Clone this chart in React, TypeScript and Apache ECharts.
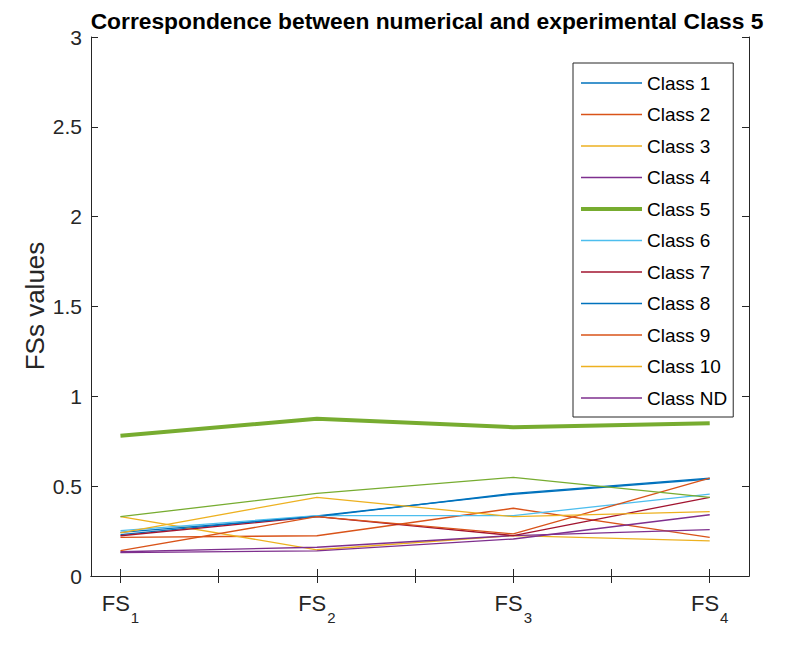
import React, { useEffect, useRef } from "react";
import * as echarts from "echarts";

const xPositions = [1, 2, 3, 4];
const tickValues = [1, 1.5, 2, 2.5, 3, 3.5, 4];

const classNames = [
  "Class 1", "Class 2", "Class 3", "Class 4", "Class 5", "Class 6",
  "Class 7", "Class 8", "Class 9", "Class 10", "Class ND",
];

const class1 = [0.23, 0.335, 0.455, 0.54];
const class2 = [0.215, 0.224, 0.377, 0.215];
const class3 = [0.33, 0.146, 0.225, 0.196];
const class4 = [0.135, 0.16, 0.225, 0.258];
const class5 = [0.78, 0.875, 0.828, 0.85];
const class6 = [0.252, 0.336, 0.336, 0.456];
const class7 = [0.224, 0.33, 0.225, 0.438];
const class8 = [0.243, 0.33, 0.46, 0.545];
const class9 = [0.141, 0.33, 0.234, 0.545];
const class10 = [0.24, 0.438, 0.33, 0.358];
const classND = [0.13, 0.14, 0.206, 0.341];
const numericalClass5 = [0.33, 0.46, 0.549, 0.438];

const seriesValues = [
  class1, class2, class3, class4, class5, class6,
  class7, class8, class9, class10, classND, numericalClass5,
];

const palette = ["#0072BD", "#D95319", "#EDB120", "#7E2F8E", "#77AC30", "#4DBEEE", "#A2142F"];

const FONT = "'Liberation Sans', Arial, Helvetica, sans-serif";
const AXIS_COLOR = "#262626";

export default function App() {
  const ref = useRef<HTMLDivElement>(null);
  useEffect(() => {
    if (!ref.current) return;
    const chart = echarts.init(ref.current, undefined, { renderer: "svg" });
    const series = seriesValues.map((vals, i) => ({
      name: i < classNames.length ? classNames[i] : "Numerical Class 5",
      type: "line",
      xAxisIndex: 0,
      yAxisIndex: 0,
      data: vals.map((v, j) => [xPositions[j], v]),
      symbol: "none",
      showSymbol: false,
      color: palette[i % palette.length],
      lineStyle: { width: i === 4 ? 4 : 1.3, color: palette[i % palette.length] },
      z: i === 4 ? 3 : 2,
    }));
    const option: any = {
      animation: false,
      backgroundColor: "#fff",
      grid: { left: 91, top: 37, width: 658, height: 539, containLabel: false },
      xAxis: [
        {
          type: "value",
          position: "bottom",
          min: 0.85,
          max: 4.2,
          splitLine: { show: false },
          axisLine: { show: true, lineStyle: { color: AXIS_COLOR, width: 1 } },
          axisTick: { show: true, inside: true, length: 7, customValues: tickValues, lineStyle: { color: AXIS_COLOR } },
          axisLabel: {
            show: true,
            customValues: xPositions,
            margin: 16,
            formatter: (v: number) => "{a|FS}{b|" + Math.round(v) + "}",
            rich: {
              a: { fontFamily: FONT, fontSize: 22, color: AXIS_COLOR, lineHeight: 26, verticalAlign: "top" },
              b: { fontFamily: FONT, fontSize: 15, color: AXIS_COLOR, lineHeight: 26, padding: [18, 0, 0, 1], verticalAlign: "top" },
            },
          },
        },
        {
          type: "value",
          position: "top",
          min: 0.85,
          max: 4.2,
          splitLine: { show: false },
          axisLine: { show: true, lineStyle: { color: AXIS_COLOR, width: 1 } },
          axisTick: { show: true, inside: true, length: 7, customValues: tickValues, lineStyle: { color: AXIS_COLOR } },
          axisLabel: { show: false },
        },
      ],
      yAxis: [
        {
          type: "value",
          position: "left",
          min: 0,
          max: 3,
          interval: 0.5,
          splitLine: { show: false },
          axisLine: { show: true, lineStyle: { color: AXIS_COLOR, width: 1 } },
          axisTick: { show: true, inside: true, length: 7, lineStyle: { color: AXIS_COLOR } },
          axisLabel: {
            show: true,
            margin: 9,
            fontFamily: FONT,
            fontSize: 21,
            color: AXIS_COLOR,
            formatter: (v: number) => String(v),
          },
        },
        {
          type: "value",
          position: "right",
          min: 0,
          max: 3,
          interval: 0.5,
          splitLine: { show: false },
          axisLine: { show: true, lineStyle: { color: AXIS_COLOR, width: 1 } },
          axisTick: { show: true, inside: true, length: 7, lineStyle: { color: AXIS_COLOR } },
          axisLabel: { show: false },
        },
      ],
      legend: {
        show: true,
        data: classNames.map((n, i) => ({ name: n, lineStyle: { width: i === 4 ? 4 : 1.3 } })),
        orient: "vertical",
        left: 573,
        top: 63,
        padding: [10.5, 6, 9.5, 6],
        itemWidth: 61,
        itemHeight: 14,
        itemGap: 12.5,
        itemStyle: { opacity: 0, borderWidth: 0 },
        lineStyle: { width: "inherit" },
        backgroundColor: "#fff",
        borderColor: AXIS_COLOR,
        borderWidth: 1,
        borderRadius: 0,
        textStyle: { fontFamily: FONT, fontSize: 19, color: "#000", lineHeight: 19 },
      },
      graphic: [
        {
          type: "text",
          x: 427,
          y: 21,
          style: {
            text: "Correspondence between numerical and experimental Class 5",
            fontFamily: FONT,
            fontWeight: "bold",
            fontSize: 22.8,
            fill: "#000",
            align: "center",
            verticalAlign: "middle",
          },
        },
        {
          type: "text",
          x: 35,
          y: 306,
          rotation: Math.PI / 2,
          style: {
            text: "FSs values",
            fontFamily: FONT,
            fontSize: 26,
            fill: AXIS_COLOR,
            align: "center",
            verticalAlign: "middle",
          },
        },
      ],
      series,
    };
    chart.setOption(option);
    return () => chart.dispose();
  }, []);
  return (
    <div
      ref={ref}
      style={{ position: "fixed", left: 0, top: 0, width: 787, height: 652, background: "#fff" }}
    />
  );
}
